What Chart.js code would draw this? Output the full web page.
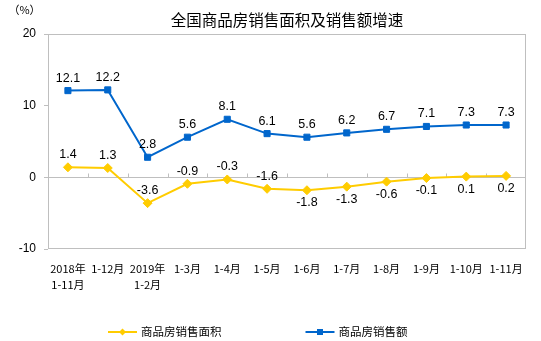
<!DOCTYPE html>
<html>
<head>
<meta charset="utf-8">
<script src="https://cdn.jsdelivr.net/npm/chart.js@4.4.0/dist/chart.umd.min.js"></script>
<style>
  html, body { margin: 0; padding: 0; background: #fff; }
</style>
</head>
<body>
<canvas id="chart" width="541" height="341"></canvas>
<script>
// Values
const months = [['2018年', '1-11月'], '1-12月', ['2019年', '1-2月'], '1-3月', '1-4月', '1-5月',
                '1-6月', '1-7月', '1-8月', '1-9月', '1-10月', '1-11月'];
const areaGrowth = [1.4, 1.3, -3.6, -0.9, -0.3, -1.6, -1.8, -1.3, -0.6, -0.1, 0.1, 0.2];
const salesGrowth = [12.1, 12.2, 2.8, 5.6, 8.1, 6.1, 5.6, 6.2, 6.7, 7.1, 7.3, 7.3];
const yTicks = [-10, 0, 10, 20];

// which side of the point each value label goes (1 above, -1 below)
const areaLabelSide = [1, 1, 1, 1, 1, 1, -1, -1, -1, -1, -1, -1];
const salesLabelSide = [1, 1, 1, 1, 1, 1, 1, 1, 1, 1, 1, 1];

const BORDER = '#BFBFBF';
const YELLOW = '#FFCC00';
const BLUE = '#0066CC';
const CJK = '"Noto Sans CJK SC", sans-serif';
const LATIN = '"Liberation Sans", Arial, sans-serif';

function drawMarker(ctx, style, x, y, r) {
    ctx.beginPath();
    if (style === 'rectRot') {
        ctx.moveTo(x, y - r);
        ctx.lineTo(x + r, y);
        ctx.lineTo(x, y + r);
        ctx.lineTo(x - r, y);
        ctx.closePath();
    } else {
        ctx.rect(x - r, y - r, r * 2, r * 2);
    }
    ctx.fill();
}

// Plot box, small ticks on the zero line, value labels, legend and unit
const decorPlugin = {
    id: 'decor',
    beforeDatasetsDraw(chart) {
        const { ctx, chartArea: a, scales: { x, y } } = chart;
        ctx.save();
        ctx.strokeStyle = BORDER;
        ctx.lineWidth = 1;
        const l = Math.round(a.left) + 0.5, t = Math.round(a.top) + 0.5;
        const r = Math.round(a.right) - 0.5, b = Math.round(a.bottom) - 0.5;
        ctx.strokeRect(l, t, r - l, b - t);

        const y0 = Math.round(y.getPixelForValue(0)) + 0.5;
        ctx.beginPath();
        for (let i = 1; i < months.length; i++) {
            const px = Math.round(x.getPixelForValue(i - 0.5)) + 0.5;
            ctx.moveTo(px, y0);
            ctx.lineTo(px, y0 - 4);
        }
        ctx.stroke();
        ctx.restore();
    },
    afterDatasetsDraw(chart) {
        const { ctx } = chart;
        ctx.save();
        ctx.fillStyle = '#000';
        ctx.font = '12.5px ' + LATIN;
        ctx.textAlign = 'center';
        ctx.textBaseline = 'middle';
        [[0, areaLabelSide], [1, salesLabelSide]].forEach(([di, sides]) => {
            const values = chart.data.datasets[di].data;
            chart.getDatasetMeta(di).data.forEach((pt, i) => {
                ctx.fillText(values[i].toFixed(1), pt.x, pt.y - sides[i] * 12.5);
            });
        });
        ctx.restore();
    },
    afterDraw(chart) {
        const { ctx } = chart;
        ctx.save();
        ctx.fillStyle = '#000';
        ctx.font = '11px ' + CJK;
        ctx.textAlign = 'center';
        ctx.textBaseline = 'middle';
        ctx.fillText('（%）', 24.5, 10);

        // legend: line with marker, then the name
        ctx.font = '11.5px ' + CJK;
        ctx.textAlign = 'left';
        let lx = 108;
        const ly = 332;
        chart.data.datasets.forEach((ds) => {
            ctx.strokeStyle = ds.borderColor;
            ctx.fillStyle = ds.borderColor;
            ctx.lineWidth = 2;
            ctx.beginPath();
            ctx.moveTo(lx, ly);
            ctx.lineTo(lx + 29, ly);
            ctx.stroke();
            drawMarker(ctx, ds.pointStyle, lx + 14.5, ly, ds.pointStyle === 'rect' ? 3 : 3.5);
            ctx.fillStyle = '#000';
            ctx.fillText(ds.label, lx + 33, ly);
            lx += 33 + ctx.measureText(ds.label).width + 84;
        });
        ctx.restore();
    }
};

new Chart(document.getElementById('chart'), {
    type: 'line',
    data: {
        labels: months,
        datasets: [
            {
                label: '商品房销售面积',
                data: areaGrowth,
                borderColor: YELLOW,
                backgroundColor: YELLOW,
                borderWidth: 2,
                pointStyle: 'rectRot',
                pointRadius: 4.5,
                pointBorderWidth: 1,
                tension: 0
            },
            {
                label: '商品房销售额',
                data: salesGrowth,
                borderColor: BLUE,
                backgroundColor: BLUE,
                borderWidth: 2,
                pointStyle: 'rect',
                pointRadius: 4.3,
                pointBorderWidth: 1,
                tension: 0
            }
        ]
    },
    options: {
        responsive: false,
        animation: false,
        layout: { padding: { left: 0, right: 15, top: 0, bottom: 42 } },
        plugins: {
            legend: { display: false },
            tooltip: { enabled: false },
            title: {
                display: true,
                text: '全国商品房销售面积及销售额增速',
                fullSize: false,
                color: '#000',
                font: { family: CJK, size: 15.5, weight: 'normal', lineHeight: 1.2 },
                padding: { top: 11, bottom: 4.4 }
            }
        },
        scales: {
            x: {
                offset: true,
                grid: { display: false },
                border: { display: false },
                ticks: {
                    color: '#000',
                    font: { family: CJK, size: 11, lineHeight: 1.45 },
                    padding: 4,
                    maxRotation: 0,
                    autoSkip: false
                },
                afterFit(scale) { scale.height = 50; }
            },
            y: {
                min: -10,
                max: 20,
                afterBuildTicks(scale) { scale.ticks = yTicks.map(v => ({ value: v })); },
                grid: {
                    color: (c) => (c.tick && c.tick.value === 0 ? BORDER : 'transparent'),
                    tickColor: BORDER,
                    tickLength: 4,
                    lineWidth: 1
                },
                border: { display: false },
                ticks: {
                    color: '#000',
                    font: { family: LATIN, size: 12 },
                    padding: 8
                },
                afterFit(scale) { scale.width = 48; }
            }
        }
    },
    plugins: [decorPlugin]
});
</script>
</body>
</html>
